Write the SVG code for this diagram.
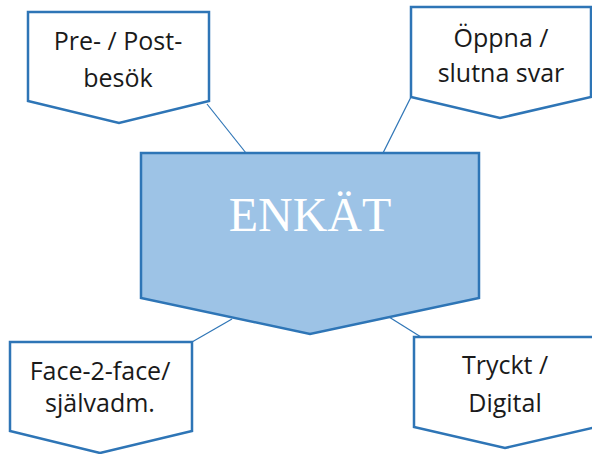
<svg xmlns="http://www.w3.org/2000/svg" width="592" height="454" viewBox="0 0 592 454">
  <style>
    .tag { fill: #ffffff; stroke: #2e75b6; stroke-width: 2.5; stroke-linejoin: miter; }
    .hub { fill: #9dc3e6; stroke: #2e75b6; stroke-width: 2.5; }
    .link { stroke: #2e75b6; stroke-width: 1.2; fill: none; }
    .lbl { font-family: "Open Sans", "Noto Sans", sans-serif; font-size: 25px; fill: #1a1a1a; text-anchor: middle; }
    .title { font-family: "Liberation Serif", "Times New Roman", serif; font-size: 48px; fill: #ffffff; text-anchor: middle; }
  </style>

  <!-- connectors between the central shape and the four labels -->
  <g id="connectors">
    <line class="link" x1="207" y1="104" x2="246" y2="153"/>
    <line class="link" x1="411" y1="97" x2="383" y2="153"/>
    <line class="link" x1="232" y1="319" x2="192" y2="342"/>
    <line class="link" x1="389" y1="317" x2="421" y2="337"/>
  </g>

  <!-- central node -->
  <g id="enkat">
    <polygon class="hub" points="141,153 479,153 479,298 310,334 141,298"/>
    <text class="title" x="310" y="231">ENKÄT</text>
  </g>

  <g id="pre-post">
    <polygon class="tag" points="28,12 209,12 209,101 119,123 28,101"/>
    <text class="lbl" x="118" y="50">Pre- / Post-</text>
    <text class="lbl" x="118" y="87">besök</text>
  </g>

  <g id="oppna-slutna">
    <polygon class="tag" points="411,7 591,7 591,97 500,118 411,97"/>
    <text class="lbl" x="501" y="47">Öppna /</text>
    <text class="lbl" x="501" y="82">slutna svar</text>
  </g>

  <g id="face-2-face">
    <polygon class="tag" points="10,342 192,342 192,431 100,453 10,431"/>
    <text class="lbl" x="100" y="380">Face-2-face/</text>
    <text class="lbl" x="100" y="412">självadm.</text>
  </g>

  <g id="tryckt-digital">
    <polygon class="tag" points="414,337 596,337 596,427 505,448 414,427"/>
    <text class="lbl" x="505" y="374">Tryckt /</text>
    <text class="lbl" x="505" y="412">Digital</text>
  </g>
</svg>
